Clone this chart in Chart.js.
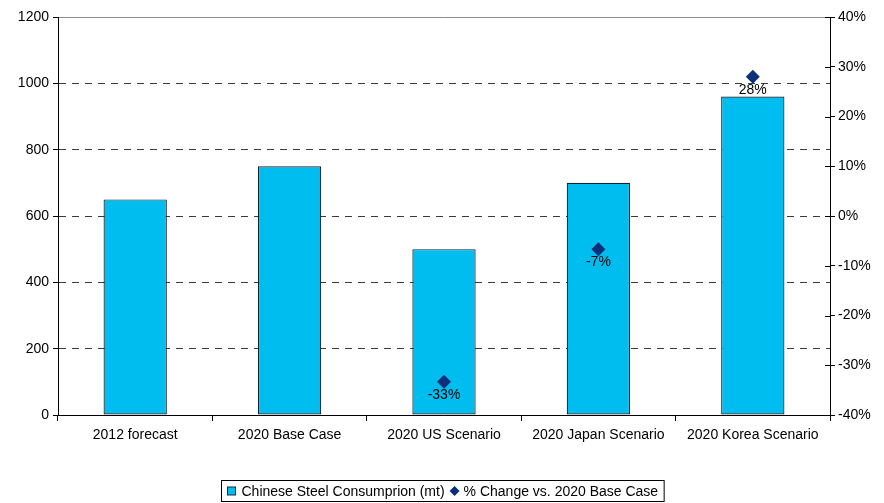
<!DOCTYPE html>
<html>
<head>
<meta charset="utf-8">
<script src="https://cdn.jsdelivr.net/npm/chart.js@4/dist/chart.umd.min.js"></script>
<style>
  html, body { margin: 0; padding: 0; background: #fff; }
  #wrap { width: 884px; height: 503px; }
</style>
</head>
<body>
<div id="wrap"><canvas id="myChart"></canvas></div>
<script>
const categories = ['2012 forecast', '2020 Base Case', '2020 US Scenario', '2020 Japan Scenario', '2020 Korea Scenario'];
const consumption = [650, 750, 500, 700, 960];
const pctChange = [null, null, -33.3, -6.7, 28];
const pctLabels = [null, null, '-33%', '-7%', '28%'];

const FONT = "'Liberation Sans', Arial, sans-serif";
const barBlue = '#00bdf0';
const navy = '#0b2f78';

// percentage labels under each diamond
const pointLabels = {
  id: 'pointLabels',
  afterDatasetsDraw(chart) {
    const ctx = chart.ctx;
    const meta = chart.getDatasetMeta(1);
    ctx.save();
    ctx.font = '14px ' + FONT;
    ctx.fillStyle = '#000';
    ctx.textAlign = 'center';
    ctx.textBaseline = 'middle';
    meta.data.forEach((pt, i) => {
      if (pctLabels[i] == null) return;
      ctx.fillText(pctLabels[i], pt.x, pt.y + 13);
    });
    ctx.restore();
  }
};

// inner half of the tick marks on the right axis, plus boxed legend
const extras = {
  id: 'extras',
  afterDraw(chart) {
    const ctx = chart.ctx;
    const y2 = chart.scales.y2;
    ctx.save();
    ctx.strokeStyle = '#000';
    ctx.lineWidth = 1;
    y2.ticks.forEach(t => {
      const y = Math.round(y2.getPixelForValue(t.value)) + 0.5;
      ctx.beginPath();
      ctx.moveTo(y2.left - 5, y);
      ctx.lineTo(y2.left, y);
      ctx.stroke();
    });

    // legend
    ctx.font = '14px ' + FONT;
    const t1 = 'Chinese Steel Consumprion (mt)';
    const t2 = '% Change vs. 2020 Base Case';
    const w1 = ctx.measureText(t1).width;
    const w2 = ctx.measureText(t2).width;
    const total = 6 + 10 + 4 + w1 + 6 + 10 + 3 + w2 + 6;
    const left = Math.round(442 - total / 2) + 0.5;
    const top = 480.5, h = 21;
    ctx.strokeStyle = '#000';
    ctx.strokeRect(left, top, total, h);
    const cy = top + h / 2;
    let x = left + 6;
    ctx.fillStyle = barBlue;
    ctx.fillRect(x, cy - 4, 8, 8);
    ctx.strokeStyle = '#1a2a3a';
    ctx.strokeRect(x, cy - 4, 8, 8);
    x += 14;
    ctx.fillStyle = '#000';
    ctx.textBaseline = 'middle';
    ctx.fillText(t1, x, cy + 1);
    x += w1 + 10;
    ctx.fillStyle = navy;
    ctx.beginPath();
    ctx.moveTo(x, cy - 5);
    ctx.lineTo(x + 5, cy);
    ctx.lineTo(x, cy + 5);
    ctx.lineTo(x - 5, cy);
    ctx.closePath();
    ctx.fill();
    x += 9;
    ctx.fillStyle = '#000';
    ctx.fillText(t2, x, cy + 1);
    ctx.restore();
  }
};

const ctx = document.getElementById('myChart').getContext('2d');
const myChart = new Chart(ctx, {
  data: {
    labels: categories,
    datasets: [
      {
        type: 'bar',
        label: 'Chinese Steel Consumprion (mt)',
        data: consumption,
        backgroundColor: barBlue,
        borderColor: '#16222e',
        borderWidth: 1.2,
        borderSkipped: false,
        barPercentage: 0.41,
        categoryPercentage: 1,
        yAxisID: 'y',
        order: 2
      },
      {
        type: 'line',
        label: '% Change vs. 2020 Base Case',
        data: pctChange,
        showLine: false,
        pointStyle: 'rectRot',
        pointRadius: 7,
        pointBackgroundColor: navy,
        pointBorderColor: navy,
        pointBorderWidth: 0,
        yAxisID: 'y2',
        order: 1
      }
    ]
  },
  options: {
    responsive: true,
    maintainAspectRatio: false,
    animation: false,
    layout: { padding: { top: 17, bottom: 0, left: 0, right: 0 } },
    plugins: {
      legend: { display: false },
      tooltip: { enabled: false }
    },
    scales: {
      x: {
        offset: true,
        grid: {
          offset: true,
          drawOnChartArea: false,
          drawTicks: true,
          tickLength: 6,
          tickColor: '#000'
        },
        border: { color: '#000', width: 1 },
        ticks: {
          color: '#000',
          font: { family: FONT, size: 14 },
          padding: 6,
          maxRotation: 0
        },
        afterFit(scale) { scale.height = 88; }
      },
      y: {
        position: 'left',
        min: 0,
        max: 1200,
        ticks: {
          stepSize: 200,
          color: '#000',
          font: { family: FONT, size: 14 },
          padding: 4,
          callback: v => String(v)
        },
        grid: {
          color: c => (c.tick && c.tick.value === 1200) ? '#8c8c8c' : '#3a3a3a',
          lineWidth: 1,
          tickLength: 5,
          tickColor: '#000'
        },
        border: {
          color: '#000',
          dash: c => (c.tick && c.tick.value > 0 && c.tick.value < 1200) ? [7, 6] : []
        },
        afterFit(scale) { scale.width = 58; }
      },
      y2: {
        position: 'right',
        min: -40,
        max: 40,
        ticks: {
          stepSize: 10,
          color: '#000',
          font: { family: FONT, size: 14 },
          padding: 3,
          callback: v => v + '%'
        },
        grid: {
          drawOnChartArea: false,
          tickLength: 5,
          tickColor: '#000'
        },
        border: { color: '#000', width: 1 },
        afterFit(scale) { scale.width = 54; }
      }
    }
  },
  plugins: [pointLabels, extras]
});
</script>
</body>
</html>
